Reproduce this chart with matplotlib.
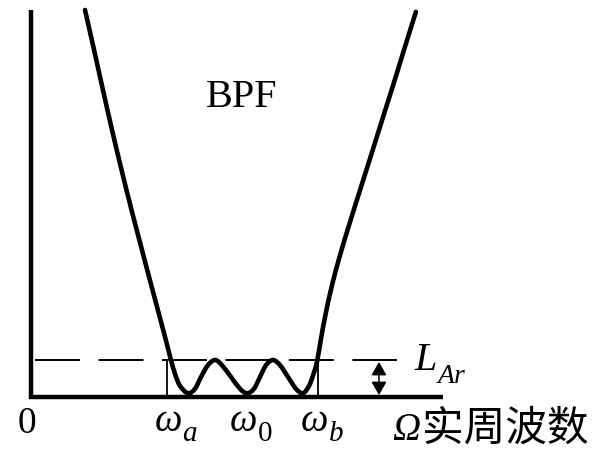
import matplotlib
matplotlib.use("Agg")
import matplotlib.pyplot as plt
from matplotlib.path import Path
from matplotlib.patches import PathPatch

plt.rcParams["lines.scale_dashes"] = False

# Band-pass attenuation response: normalized frequency (w / w0) and attenuation (L / L_Ar)
omega = [0.250, 0.292, 0.333, 0.375, 0.417, 0.463, 0.514, 0.560, 0.602, 0.630, 0.648,
         0.667, 0.690, 0.727, 0.759, 0.787, 0.819, 0.852, 0.884, 0.926, 0.968,
         1.000, 1.032, 1.060, 1.088, 1.120, 1.153, 1.190, 1.227, 1.259, 1.287, 1.306, 1.324,
         1.343, 1.366, 1.394, 1.431, 1.477, 1.528, 1.579, 1.630, 1.681, 1.731, 1.782]
atten = [10.46, 9.38, 8.30, 7.22, 6.19, 5.11, 3.97, 2.95, 2.03, 1.41, 1.00,
         0.62, 0.30, 0.10, 0.22, 0.54, 0.86, 1.00, 0.86, 0.54, 0.22,
         0.10, 0.22, 0.54, 0.86, 1.00, 0.86, 0.54, 0.22, 0.10, 0.30, 0.59, 0.95,
         1.59, 2.30, 3.03, 3.84, 4.73, 5.68, 6.62, 7.57, 8.51, 9.46, 10.41]

omega_a, omega_0, omega_b = 0.630, 1.000, 1.329
L_Ar = 1.0

freq_ticks = [omega_a, omega_0, omega_b]
freq_subscripts = ["a", "0", "b"]
freq_split_dx = [0.069, 0.049, 0.049]

x_axis_end = 1.907
y_axis_top = 10.46
ripple_line_span = (0.0185, 1.694)
arrow_x = 1.611

fig = plt.figure(figsize=(6.03, 4.49), dpi=100)
ax = fig.add_axes([0, 0, 1, 1])
ax.set_xlim(-31 / 216, 572 / 216)
ax.set_ylim(-52 / 37, 397 / 37)
ax.axis("off")

serif = "Liberation Serif"

# coordinate axes
ax.plot([0, 0, x_axis_end], [y_axis_top, 0, 0], color="black", lw=3.2,
        solid_joinstyle="miter", solid_capstyle="butt")

# ripple level L_Ar
ax.plot(ripple_line_span, [L_Ar, L_Ar], color="black", lw=1.4,
        dashes=(32.4, 13.3), dash_capstyle="butt")

# band-edge markers
for w in (omega_a, omega_b):
    ax.plot([w, w], [0, L_Ar], color="black", lw=1.3, solid_capstyle="butt")

# smooth response curve (Catmull-Rom segments as cubic Beziers)
pts = list(zip(omega, atten))
verts = [pts[0]]
codes = [Path.MOVETO]
n = len(pts)
for i in range(n - 1):
    p0 = pts[max(i - 1, 0)]
    p1 = pts[i]
    p2 = pts[i + 1]
    p3 = pts[min(i + 2, n - 1)]
    c1 = (p1[0] + (p2[0] - p0[0]) / 6, p1[1] + (p2[1] - p0[1]) / 6)
    c2 = (p2[0] - (p3[0] - p1[0]) / 6, p2[1] - (p3[1] - p1[1]) / 6)
    verts += [c1, c2, p2]
    codes += [Path.CURVE4] * 3
ax.add_patch(PathPatch(Path(verts, codes), fill=False, edgecolor="black", lw=3.3,
                       capstyle="round", joinstyle="round", transform=ax.transData))

# double arrow for the ripple height
ax.annotate("", xy=(arrow_x, 0.946), xytext=(arrow_x, 0.054),
            arrowprops=dict(arrowstyle="<|-|>,head_length=0.4,head_width=0.23",
                            mutation_scale=20, color="black", lw=1.1,
                            shrinkA=0, shrinkB=0))

# frequency labels
ax.text(-0.0185, -0.97, "0", ha="center", va="baseline", fontsize=27, family=serif)
for w, sub, dx in zip(freq_ticks, freq_subscripts, freq_split_dx):
    ax.text(w + dx, -0.92, "ω", ha="right", va="baseline", fontsize=28,
            family=serif, style="italic")
    ax.text(w + dx, -1.20, sub, ha="left", va="baseline", fontsize=21,
            family=serif, style="normal" if sub.isdigit() else "italic")

ax.text(0.975, 7.84, "BPF", ha="center", va="baseline", fontsize=29, family=serif)
ax.text(1.880, 0.73, "L", ha="right", va="baseline", fontsize=29, family=serif,
        style="italic")
ax.text(1.880, 0.38, "Ar", ha="left", va="baseline", fontsize=20, family=serif,
        style="italic")
ax.text(1.671, -1.15, "Ω", ha="left", va="baseline", fontsize=28,
        family=serif, style="italic")
ax.text(1.810, -1.17, "实周波数", ha="left", va="baseline", fontsize=30,
        family=["Noto Sans CJK SC", "DejaVu Sans"])

fig.savefig("out.png", dpi=100)
